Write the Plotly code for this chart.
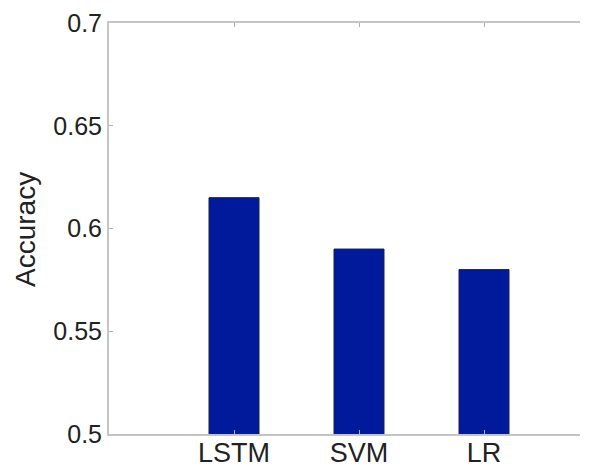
import plotly.graph_objects as go

categories = ["LSTM", "SVM", "LR"]
accuracy = [0.615, 0.590, 0.580]
y_ticks = [0.5, 0.55, 0.6, 0.65, 0.7]
y_tick_labels = ["0.5", "0.55", "0.6", "0.65", "0.7"]

positions = list(range(1, len(categories) + 1))

# the page body has an 8px margin
OFF = 8
W, H = 600 - OFF, 468 - OFF
L, T = 109 - OFF, 23 - OFF
R = 20
plot_h = 411
B = H - T - plot_h
plot_w = W - L - R
xmax = 4 * (plot_w) / 500.0

fig = go.Figure()
fig.add_trace(go.Bar(
    x=positions, y=accuracy, width=0.4,
    marker=dict(color="rgb(0,26,156)", line=dict(color="rgb(30,30,70)", width=1)),
))

fig.update_layout(
    width=W, height=H, autosize=False,
    margin=dict(l=L, r=R, t=T, b=B, pad=0),
    paper_bgcolor="white", plot_bgcolor="white",
    showlegend=False,
    font=dict(family="Liberation Sans, Arial, sans-serif", color="#222"),
    annotations=[dict(
        text="Accuracy", textangle=-90, showarrow=False,
        xref="paper", yref="paper",
        x=(26 - OFF - L) / plot_w, y=(H - B - (230 - OFF)) / plot_h,
        xanchor="center", yanchor="middle",
        font=dict(size=28, color="#222"),
    )],
)
fig.update_xaxes(
    range=[0, xmax], tickvals=positions, ticktext=categories,
    showline=True, linecolor="#c4c4c4", linewidth=2, mirror="ticks",
    ticks="inside", ticklen=4, tickcolor="#b0b0b0", tickwidth=1,
    showgrid=False, zeroline=False, automargin=False,
    ticklabelstandoff=-6,
    tickfont=dict(size=27, color="#222"),
)
fig.update_yaxes(
    range=[0.5, 0.7], tickvals=y_ticks, ticktext=y_tick_labels,
    showline=True, linecolor="#c4c4c4", linewidth=2, mirror=False,
    ticks="inside", ticklen=4, tickcolor="#b0b0b0", tickwidth=1,
    showgrid=False, zeroline=False, automargin=False,
    tickfont=dict(size=25, color="#222"),
)

fig.write_html("out.html")
